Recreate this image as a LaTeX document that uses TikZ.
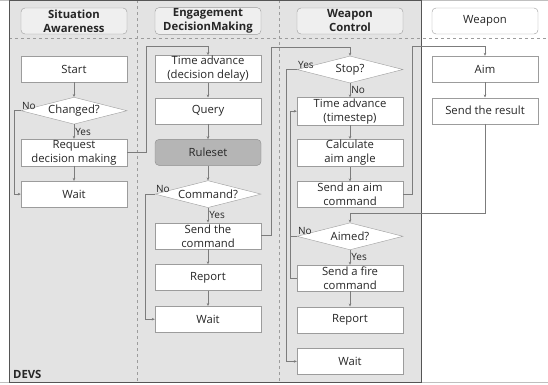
\documentclass[tikz,border=0pt]{standalone}
\usepackage{fontspec}
\setmainfont{Open Sans}
\usetikzlibrary{arrows.meta,positioning,shapes.geometric}

\definecolor{laneGray}{HTML}{E3E3E3}
\definecolor{headFill}{HTML}{EFEFEF}
\definecolor{boxLine}{HTML}{9C9C9C}
\definecolor{flowLine}{HTML}{7C7C7C}
\definecolor{ruleFill}{HTML}{B5B5B5}
\definecolor{devsLine}{HTML}{555555}

\begin{document}
\begin{tikzpicture}[x=1pt, y=-1pt, node distance=41.7pt, on grid, font={\fontsize{11.3}{14}\selectfont}]
  \tikzstyle{box} = [draw=boxLine, fill=white, rectangle, minimum height=26pt, minimum width=106pt, inner sep=1pt, align=center, text=black!85]
  \tikzstyle{header} = [box, rounded corners=4pt, fill=headFill, font={\fontsize{11.3}{14}\selectfont\bfseries}]
  \tikzstyle{decision} = [draw=boxLine, fill=white, diamond, aspect=3.9, minimum width=106pt, minimum height=27pt, inner sep=0pt, text=black!85];
  \tikzstyle{laneLine} = [boxLine, dashed, thin];
  \tikzstyle{flowEdgePortion} = [flowLine, line width=0.7pt];
  \tikzstyle{flowEdge} = [flowEdgePortion, -{Stealth[length=3pt, width=2.6pt]}];
  \tikzstyle{edgeLabel} = [inner sep=1pt, text=black!85, font={\fontsize{10}{12}\selectfont}];

  \useasboundingbox (0,0) rectangle (548,384);

  % lanes and frame
  \fill[laneGray] (9,0) rectangle (421,382);
  \draw[black!25] (0,0.5) -- (548,0.5);
  \draw[black!25] (0,382) -- (548,382);
  \draw[laneLine] (9,38) -- (548,38);
  \draw[laneLine] (137,0) -- (137,382);
  \draw[laneLine] (279,0) -- (279,382);
  \draw[devsLine, line width=1pt] (9,0.5) rectangle (421,382);
  \node[anchor=south west, inner sep=0pt, text=black!85, font={\fontsize{11.3}{14}\selectfont\bfseries}] (devs) at (13,379) {DEVS};

  % lane headers
  \node[header] (hSA) at (74,21) {Situation\\Awareness};
  \node[header] (hEDM) at (208,21) {Engagement\\DecisionMaking};
  \node[header] (hWC) at (350,21) {Weapon\\Control};
  \node[header, fill=white, font={\fontsize{11.3}{14}\selectfont}] (hW) at (485,21) {Weapon};

  % situation awareness
  \node[box] (start) at (74,69) {Start};
  \node[decision] (chg) [below=of start] {Changed?};
  \node[box] (req) [below=of chg] {Request\\decision making};
  \node[box] (waitA) [below=of req] {Wait};

  % engagement decision making
  \node[box] (tdelay) at (208,69) {Time advance\\(decision delay)};
  \node[box] (query) [below=of tdelay] {Query};
  \node[box, rounded corners=4pt, fill=ruleFill, draw=black!45] (rules) [below=of query] {Ruleset};
  \node[decision] (cmd) [below=of rules] {Command?};
  \node[box] (sendcmd) [below=of cmd] {Send the\\command};
  \node[box] (repB) [below=of sendcmd] {Report};
  \node[box] (waitB) [below=of repB] {Wait};

  % weapon control
  \node[decision] (stop) at (350,69.5) {Stop?};
  \node[box] (tstep) [below=of stop] {Time advance\\(timestep)};
  \node[box] (calc) [below=of tstep] {Calculate\\aim angle};
  \node[box] (aimcmd) [below=of calc] {Send an aim\\command};
  \node[decision] (aimed) [below=of aimcmd] {Aimed?};
  \node[box] (fire) [below=of aimed] {Send a fire\\command};
  \node[box] (repC) [below=of fire] {Report};
  \node[box] (waitC) [below=of repC] {Wait};

  % weapon
  \node[box] (aim) at (485,69) {Aim};
  \node[box] (result) [below=of aim] {Send the result};

  \draw[flowEdge] (start) -- (chg);
  \draw[flowEdge] (chg) -- node[edgeLabel, right] {Yes} (req);
  \draw[flowEdge] (chg.west) node[edgeLabel, anchor=south west] {No} -- ++(-6,0) |- (waitA.west);
  \draw[flowEdge] (req) -- (waitA);
  \draw[flowEdge] (req.east) -- ++(19,0) |- ([yshift=9pt]tdelay.north) -- (tdelay.north);

  \draw[flowEdge] (tdelay) -- (query);
  \draw[flowEdge] (query) -- (rules);
  \draw[flowEdge] (rules) -- (cmd);
  \draw[flowEdge] (cmd) -- node[edgeLabel, right] {Yes} (sendcmd);
  \draw[flowEdge] (cmd.west) node[edgeLabel, anchor=south west] {No} -- ++(-9,0) |- (waitB.west);
  \draw[flowEdge] (sendcmd) -- (repB);
  \draw[flowEdge] (repB) -- (waitB);
  \draw[flowEdge] (sendcmd.east) -- ++(10,0) |- ([yshift=8.5pt]stop.north) -- (stop.north);

  \draw[flowEdge] (stop) -- node[edgeLabel, right] {No} (tstep);
  \draw[flowEdge] (stop.west) node[edgeLabel, anchor=south west] {Yes} -- ++(-10,0) |- (waitC.west);
  \draw[flowEdge] (tstep) -- (calc);
  \draw[flowEdge] (calc) -- (aimcmd);
  \draw[flowEdge] (aimcmd.east) -- ++(9,0) |- ([yshift=9pt]aim.north) -- (aim.north);
  \draw[flowEdge] (aim) -- (result);
  \draw[flowEdge] (result.south) |- ([yshift=9pt]aimed.north) -- (aimed.north);
  \draw[flowEdge] (aimed) -- node[edgeLabel, right] {Yes} (fire);
  \draw[flowEdgePortion] (aimed.west) node[edgeLabel, anchor=south west] {No} -- ++(-6,0);
  \draw[flowEdge] (fire.west) -- ++(-6,0) |- (tstep.west);
  \draw[flowEdge] (fire) -- (repC);
\end{tikzpicture}
\end{document}
